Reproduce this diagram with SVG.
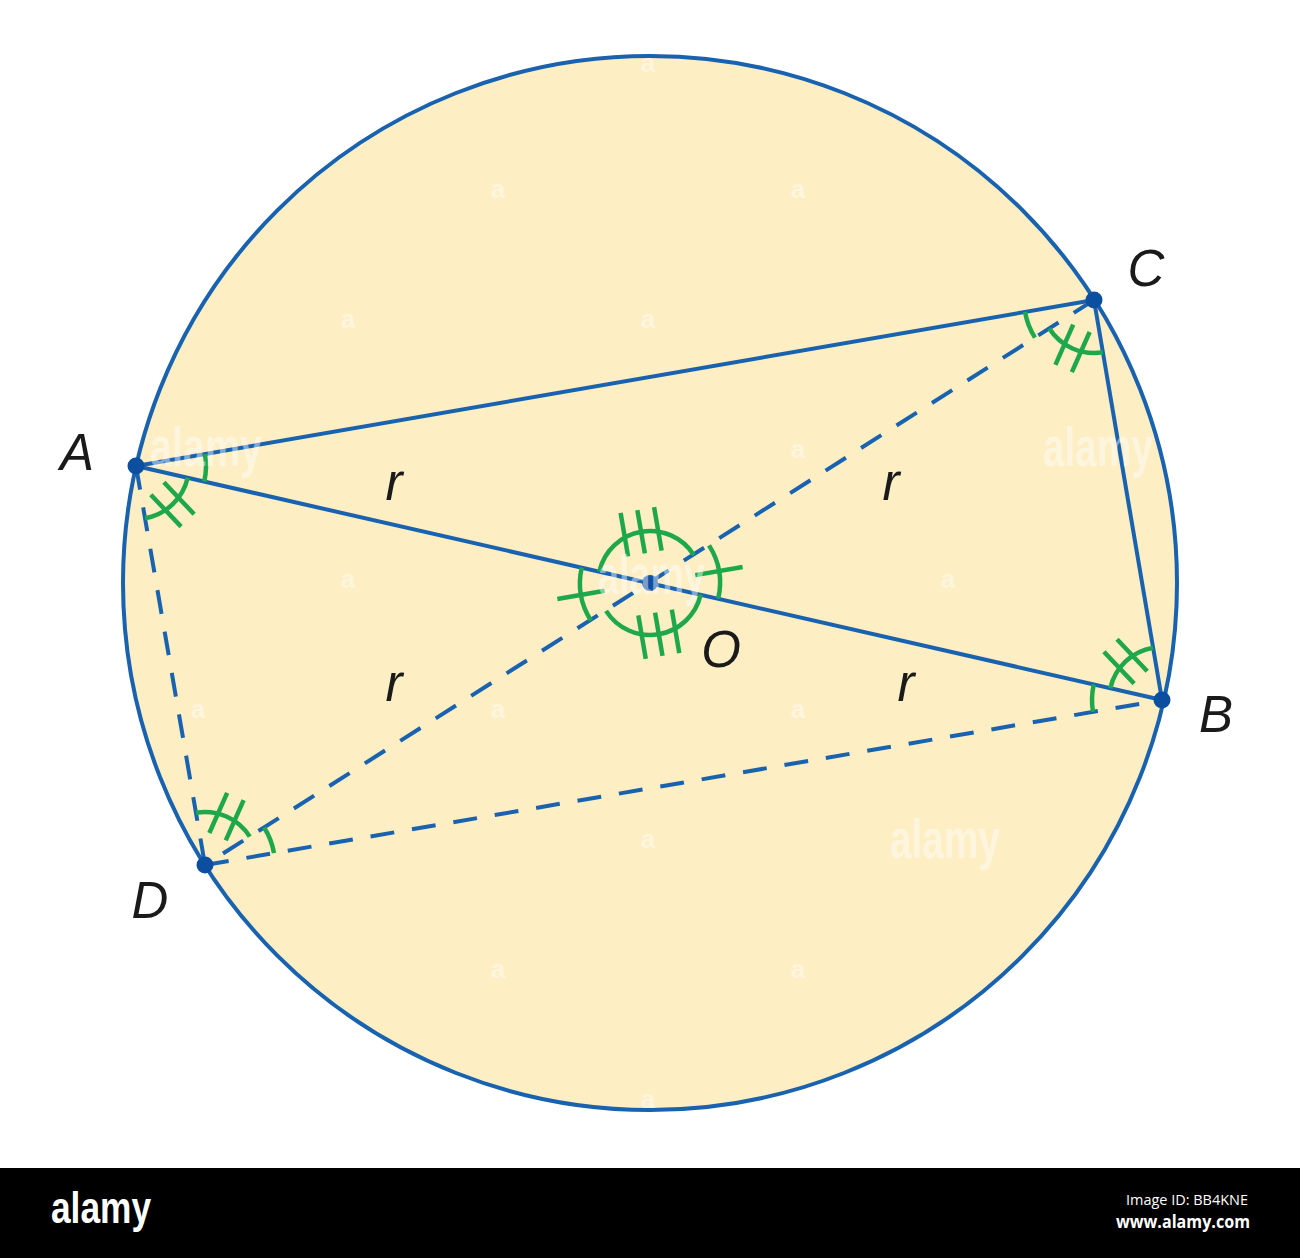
<svg xmlns="http://www.w3.org/2000/svg" width="1300" height="1258" viewBox="0 0 1300 1258">
<style>
.solid{fill:none;stroke:#1862b0;stroke-width:4;stroke-linecap:round}
.dash{fill:none;stroke:#1862b0;stroke-width:4;stroke-dasharray:24 18}
.mark{fill:none;stroke:#1fa84b;stroke-width:4.5;stroke-linecap:butt}
.dot{fill:#0c4fa0}
.lbl{font-family:"Liberation Sans",Arial,sans-serif;font-style:italic;font-size:51px;fill:#1a1a1a;text-anchor:middle}
.wm{font-family:"Liberation Sans",Arial,sans-serif;font-weight:bold;fill:#ffffff;opacity:0.45}
</style>
<rect width="1300" height="1258" fill="#ffffff"/>
<g id="circle">
<circle cx="650" cy="583" r="527" fill="#fdeec3" stroke="#1862b0" stroke-width="4"/>
</g>
<g id="connectors">
<line class="solid" x1="136" y1="466" x2="1094" y2="300"/>
<line class="solid" x1="136" y1="466" x2="1162" y2="700"/>
<line class="solid" x1="1094" y1="300" x2="1162" y2="700"/>
<line class="dash" x1="136" y1="466" x2="205" y2="865"/>
<line class="dash" x1="205" y1="865" x2="1162" y2="700"/>
<line class="dash" x1="1094" y1="300" x2="205" y2="865"/>
</g>
<g id="angle-marks">
<!-- A -->
<path class="mark" d="M204.97,454.05 A70,70 0 0 1 204.25,481.53"/>
<path class="mark" d="M187.68,477.76 A53,53 0 0 1 145.03,518.22"/>
<path class="mark" d="M150.82,494.69 L181.10,526.61 M163.88,482.29 L194.16,514.21"/>
<!-- C -->
<path class="mark" d="M1034.97,337.63 A70,70 0 0 1 1025.03,311.95"/>
<path class="mark" d="M1102.88,352.25 A53,53 0 0 1 1049.31,328.49"/>
<path class="mark" d="M1073.21,324.69 L1055.37,364.91 M1089.67,331.99 L1071.83,372.21"/>
<!-- B -->
<path class="mark" d="M1110.33,688.19 A53,53 0 0 1 1153.12,647.75"/>
<path class="mark" d="M1147.24,671.30 L1117.02,639.32 M1134.16,683.66 L1103.94,651.68"/>
<path class="mark" d="M1093.02,711.89 A70,70 0 0 1 1093.76,684.41"/>
<!-- D -->
<path class="mark" d="M195.97,812.78 A53,53 0 0 1 249.77,836.63"/>
<path class="mark" d="M243.63,800.09 L225.79,840.31 M227.17,792.79 L209.33,833.01"/>
<path class="mark" d="M264.13,827.54 A70,70 0 0 1 273.98,853.11"/>
<!-- O -->
<path class="mark" d="M599.30,571.46 A52,52 0 0 1 693.85,555.05"/>
<path class="mark" d="M620.59,512.99 L628.11,556.35 M637.34,510.08 L644.86,553.44 M654.09,507.17 L661.61,550.53"/>
<path class="mark" d="M700.69,594.58 A52,52 0 0 1 606.07,610.83"/>
<path class="mark" d="M671.84,609.69 L679.28,653.05 M655.08,612.57 L662.52,655.93 M638.32,615.45 L645.76,658.81"/>
<path class="mark" d="M590.87,620.46 A70,70 0 0 1 581.74,567.47"/>
<path class="mark" d="M557.36,598.95 L604.66,590.81"/>
<path class="mark" d="M709.03,545.37 A70,70 0 0 1 718.24,598.59"/>
<path class="mark" d="M695.32,575.15 L742.62,566.95"/>
</g>
<g id="node-A"><circle class="dot" cx="136" cy="466" r="8.5"/><text class="lbl" x="77" y="470">A</text></g>
<g id="node-C"><circle class="dot" cx="1094" cy="300" r="8.5"/><text class="lbl" x="1146" y="286">C</text></g>
<g id="node-B"><circle class="dot" cx="1162" cy="700" r="8.5"/><text class="lbl" x="1216" y="732">B</text></g>
<g id="node-D"><circle class="dot" cx="205" cy="865" r="8.5"/><text class="lbl" x="150" y="918">D</text></g>
<g id="node-O"><circle class="dot" cx="650" cy="583" r="8"/><text class="lbl" x="721" y="667">O</text></g>
<g id="radius-labels">
<text class="lbl" x="394" y="500">r</text>
<text class="lbl" x="891" y="500">r</text>
<text class="lbl" x="394" y="701">r</text>
<text class="lbl" x="906" y="701">r</text>
</g>
<g id="watermarks">
<text class="wm" x="150" y="466" font-size="56" textLength="112" lengthAdjust="spacingAndGlyphs">alamy</text>
<text class="wm" x="1043" y="466" font-size="56" textLength="110" lengthAdjust="spacingAndGlyphs">alamy</text>
<text class="wm" x="890" y="858" font-size="56" textLength="110" lengthAdjust="spacingAndGlyphs">alamy</text>
<text class="wm" x="598" y="594" font-size="56" textLength="107" lengthAdjust="spacingAndGlyphs">alamy</text>
<g font-size="26" text-anchor="middle">
<text class="wm" x="648" y="72">a</text>
<text class="wm" x="498" y="198">a</text>
<text class="wm" x="798" y="198">a</text>
<text class="wm" x="348" y="328">a</text>
<text class="wm" x="648" y="328">a</text>
<text class="wm" x="798" y="458">a</text>
<text class="wm" x="348" y="588">a</text>
<text class="wm" x="948" y="588">a</text>
<text class="wm" x="198" y="718">a</text>
<text class="wm" x="498" y="718">a</text>
<text class="wm" x="798" y="718">a</text>
<text class="wm" x="648" y="848">a</text>
<text class="wm" x="498" y="978">a</text>
<text class="wm" x="798" y="978">a</text>
<text class="wm" x="648" y="1108">a</text>
</g>
</g>
<g id="footer">
<rect x="0" y="1168" width="1300" height="90" fill="#000000"/>
<text x="51" y="1223" font-family="'Liberation Sans',Arial,sans-serif" font-weight="bold" font-size="44" fill="#ffffff" textLength="100" lengthAdjust="spacingAndGlyphs">alamy</text>
<text x="1126" y="1205" font-family="'Open Sans','DejaVu Sans',sans-serif" font-size="14" fill="#ffffff" textLength="122" lengthAdjust="spacingAndGlyphs">Image ID: BB4KNE</text>
<text x="1116" y="1228" font-family="'Open Sans','DejaVu Sans',sans-serif" font-weight="bold" font-size="17" fill="#ffffff" textLength="134" lengthAdjust="spacingAndGlyphs">www.alamy.com</text>
</g>
</svg>
